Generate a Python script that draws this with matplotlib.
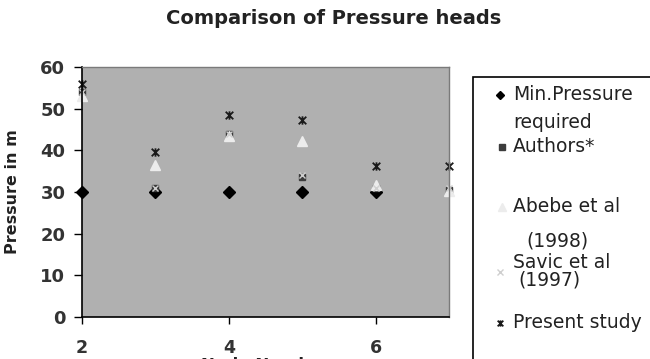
import matplotlib
matplotlib.use("Agg")
import matplotlib.pyplot as plt
from matplotlib.path import Path
from matplotlib.lines import Line2D
from matplotlib.patches import Rectangle

plt.rcParams['font.family'] = ['DejaVu Sans']

# ---- data ----
nodes_min = [2, 3, 4, 5, 6]
min_pressure = [30, 30, 30, 30, 30]
nodes = [2, 3, 4, 5, 6, 7]
authors = [54, 31, 44, 33.5, 31, 30.5]
abebe = [53, 36.5, 43.5, 42.3, 31.8, 30.3]
savic = [54, 31, 44, 34, 31, 31]
present = [56, 39.5, 48.5, 47.2, 36.3, 36.3]

title = "Comparison of Pressure heads"
xlabel = "Node Number"
ylabel = "Pressure in m"
xticks = [2, 4, 6]
yticks = [0, 10, 20, 30, 40, 50, 60]

# star marker: x with a vertical bar
star = Path([(-1, -1), (1, 1), (-1, 1), (1, -1), (0, -1.1), (0, 1.1)],
            [Path.MOVETO, Path.LINETO, Path.MOVETO, Path.LINETO, Path.MOVETO, Path.LINETO])

W, H = 650, 359
fig = plt.figure(figsize=(6.5, 3.59), dpi=100)
ax = fig.add_axes([82 / W, 1 - 317 / H, (449 - 82) / W, (317 - 67) / H])
ax.set_facecolor('#b0b0b0')

styles = [
    dict(marker='D', color='black', ms=6),
    dict(marker='s', color='#3c3c3c', ms=5),
    dict(marker='^', color='#ececec', ms=7),
    dict(marker='x', color='#cfcfcf', ms=5, mew=1),
    dict(marker=star, color='#1a1a1a', ms=6, mew=1.3),
]
series = [(nodes_min, min_pressure), (nodes, authors), (nodes, abebe),
          (nodes, savic), (nodes, present)]
for (xs, ys), st in zip(series, styles):
    ax.plot(xs, ys, linestyle='none', clip_on=False, **st)

ax.set_xlim(2, 7)
ax.set_ylim(0, 60)
ax.set_xticks(xticks)
ax.set_yticks(yticks)
ax.tick_params(axis='y', direction='out', length=6, width=1, pad=6,
               labelsize=13, labelcolor='#333333')
ax.tick_params(axis='x', direction='out', length=5, width=1, pad=11,
               labelsize=12.5, labelcolor='#333333')
for lab in ax.get_xticklabels() + ax.get_yticklabels():
    lab.set_fontweight('bold')
for s in ['left', 'bottom']:
    ax.spines[s].set_color('black')
    ax.spines[s].set_linewidth(1.2)
for s in ['top', 'right']:
    ax.spines[s].set_color('#7a7a7a')
    ax.spines[s].set_linewidth(1.0)

ax.set_ylabel(ylabel, fontsize=11.5, fontweight='bold', color='#222222')
ax.yaxis.set_label_coords((20 - 82) / 367, 0.5)
ax.set_xlabel(xlabel, fontsize=12, fontweight='bold', color='#222222', labelpad=0)

fig.text(334 / W, 1 - 18 / H, title, fontsize=14, fontweight='bold',
         ha='center', va='center', color='#222222')

# ---- legend (manual, Excel-like) ----
fig.patches.append(Rectangle((473 / W, -0.1), 0.4, 1 - 77 / H + 0.1,
                             transform=fig.transFigure, facecolor='white',
                             edgecolor='black', linewidth=1.2, clip_on=False))
marker_pos = [(500, 95), (502, 147), (502, 207), (500, 272), (500, 323)]
text_lines = [
    [(513, 95, "Min.Pressure"), (513, 122, "required")],
    [(513, 147, "Authors*")],
    [(513, 207, "Abebe et al"), (526, 241, "(1998)")],
    [(513, 262, "Savic et al"), (518, 280, "(1997)")],
    [(513, 323, "Present study")],
]
for (mx, my), st, lines in zip(marker_pos, styles, text_lines):
    st2 = dict(st)
    st2['ms'] = st['ms'] * 0.75
    fig.add_artist(Line2D([mx / W], [1 - my / H], transform=fig.transFigure,
                          linestyle='none', **st2))
    for tx, ty, t in lines:
        fig.text(tx / W, 1 - ty / H, t, fontsize=13.5, ha='left', va='center',
                 color='#222222')

fig.savefig("out.png", dpi=100, facecolor='white')
